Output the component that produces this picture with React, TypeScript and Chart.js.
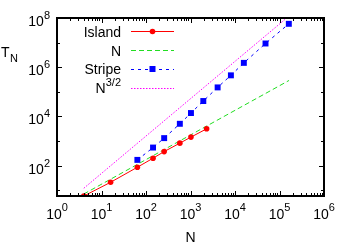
import React, { useEffect, useRef } from "react";
import { Chart, registerables } from "chart.js";

Chart.register(...registerables);

// ---- data ----
const islandN = [4, 16, 64, 144, 256, 576, 1024, 2304];
const islandT = [5.8, 21, 86, 200, 372, 819, 1440, 3130];
const stripeN = [64, 144, 256, 576, 1024, 1940, 4070, 8090, 15800, 48500, 162000];
const stripeT = [171, 542, 1310, 5010, 13700, 42200, 151000, 467000, 1.5e6, 9.2e6, 5.8e7];
const nLineN = [4, 164000];
const nLineT = [7, 2.9e5];
const n32LineN = [4, 145000];
const n32LineT = [12, 1e8];
const xTickExp = [0, 1, 2, 3, 4, 5, 6];
const yTickExp = [2, 4, 6, 8];
const legendLabels = [
  { base: "Island", sup: "" },
  { base: "N", sup: "" },
  { base: "Stripe", sup: "" },
  { base: "N", sup: "3/2" },
];

const FONT = "'Liberation Sans', Arial, Helvetica, sans-serif";
const RED = "#ff0000";
const GREEN = "#22dd22";
const BLUE = "#0000ff";
const MAGENTA = "#ff00ff";

const zip = (xs: number[], ys: number[]) => xs.map((x, i) => ({ x, y: ys[i] }));

const decorPlugin = {
  id: "decor",
  afterDraw(chart: any) {
    const { ctx, chartArea, scales } = chart;
    const { left, right, top, bottom } = chartArea;
    const xs = scales.x;
    const ys = scales.y;
    ctx.save();
    ctx.strokeStyle = "#000";
    ctx.fillStyle = "#000";
    ctx.lineWidth = 1;
    // x ticks
    for (const k of xTickExp) {
      const px = Math.round(xs.getPixelForValue(10 ** k)) + 0.5;
      ctx.beginPath();
      ctx.moveTo(px, bottom); ctx.lineTo(px, bottom - 5);
      ctx.moveTo(px, top); ctx.lineTo(px, top + 5);
      ctx.stroke();
      if (k < 6) {
        for (let m = 2; m <= 9; m++) {
          const mx = Math.round(xs.getPixelForValue(m * 10 ** k)) + 0.5;
          ctx.beginPath();
          ctx.moveTo(mx, bottom); ctx.lineTo(mx, bottom - 3);
          ctx.moveTo(mx, top); ctx.lineTo(mx, top + 3);
          ctx.stroke();
        }
      }
    }
    // y ticks
    for (let k = 1; k <= 8; k++) {
      const v = 10 ** k;
      if (v < ys.min || v > ys.max) continue;
      const py = Math.round(ys.getPixelForValue(v)) + 0.5;
      const len = k % 2 === 0 ? 5 : 3;
      ctx.beginPath();
      ctx.moveTo(left, py); ctx.lineTo(left + len, py);
      ctx.moveTo(right, py); ctx.lineTo(right - len, py);
      ctx.stroke();
    }
    // border
    ctx.lineWidth = 2;
    ctx.strokeRect(left, top, right - left, bottom - top);

    const baseFont = `14px ${FONT}`;
    const supFont = `11px ${FONT}`;
    const widthOf = (t: string, f: string) => { ctx.font = f; return ctx.measureText(t).width; };
    const drawSup = (base: string, sup: string, x: number, y: number, raise: number) => {
      ctx.textAlign = "left";
      ctx.textBaseline = "alphabetic";
      ctx.font = baseFont;
      ctx.fillText(base, x, y);
      if (sup) {
        const wb = widthOf(base, baseFont);
        ctx.font = supFont;
        ctx.fillText(sup, x + wb, y - raise);
      }
    };
    const totalW = (base: string, sup: string) =>
      widthOf(base, baseFont) + (sup ? widthOf(sup, supFont) : 0);

    // x tick labels
    for (const k of xTickExp) {
      const px = xs.getPixelForValue(10 ** k);
      const w = totalW("10", String(k));
      drawSup("10", String(k), px - w / 2, bottom + 23, 8);
    }
    // y tick labels
    for (const k of yTickExp) {
      const py = ys.getPixelForValue(10 ** k);
      const w = totalW("10", String(k));
      drawSup("10", String(k), left - 7 - w, py + 8, 7);
    }
    // axis titles
    {
      const w = widthOf("N", baseFont);
      drawSup("N", "", (left + right) / 2 - w / 2, 241.5, 0);
      ctx.font = baseFont;
      ctx.fillText("T", 1, 57);
      const wt = widthOf("T", baseFont);
      ctx.font = supFont;
      ctx.fillText("N", 1 + wt + 0.5, 62);
    }
    // legend
    const rows = [31, 50, 68.5, 87.5];
    const textRight = 121;
    const sx0 = 131, sx1 = 174, smid = 152.5;
    const styles = [
      { color: RED, dash: [] as number[], marker: "circle" },
      { color: GREEN, dash: [5, 3], marker: "" },
      { color: BLUE, dash: [3, 4], marker: "rect" },
      { color: MAGENTA, dash: [1.5, 1.5], marker: "" },
    ];
    legendLabels.forEach((lab, i) => {
      const cy = rows[i];
      const w = totalW(lab.base, lab.sup);
      ctx.fillStyle = "#000";
      drawSup(lab.base, lab.sup, textRight - w, cy + 5.5, 7);
      const st = styles[i];
      ctx.strokeStyle = st.color;
      ctx.lineWidth = 1;
      ctx.setLineDash(st.dash);
      ctx.beginPath();
      ctx.moveTo(sx0, Math.round(cy) + 0.5);
      ctx.lineTo(sx1, Math.round(cy) + 0.5);
      ctx.stroke();
      ctx.setLineDash([]);
      ctx.fillStyle = st.color;
      if (st.marker === "circle") {
        ctx.beginPath();
        ctx.arc(smid, cy + 0.5, 2.8, 0, Math.PI * 2);
        ctx.fill();
      } else if (st.marker === "rect") {
        ctx.fillRect(smid - 3, cy + 0.5 - 3, 6, 6);
      }
    });
    ctx.restore();
  },
};

export default function App() {
  const ref = useRef<HTMLCanvasElement>(null);
  useEffect(() => {
    document.body.style.margin = "0";
    const canvas = ref.current!;
    const chart = new Chart(canvas, {
      type: "line",
      data: {
        datasets: [
          {
            label: "Island",
            data: zip(islandN, islandT),
            borderColor: RED,
            backgroundColor: RED,
            borderWidth: 1,
            pointRadius: 2.8,
            pointBorderWidth: 0,
            pointStyle: "circle",
          },
          {
            label: "N",
            data: zip(nLineN, nLineT),
            borderColor: GREEN,
            borderWidth: 1,
            borderDash: [5, 3],
            pointRadius: 0,
          },
          {
            label: "Stripe",
            data: zip(stripeN, stripeT),
            borderColor: BLUE,
            backgroundColor: BLUE,
            borderWidth: 1,
            borderDash: [3, 4],
            pointRadius: 4.2,
            pointBorderWidth: 0,
            pointStyle: "rect",
          },
          {
            label: "N^3/2",
            data: zip(n32LineN, n32LineT),
            borderColor: MAGENTA,
            borderWidth: 1,
            borderDash: [1.5, 1.5],
            pointRadius: 0,
          },
        ],
      },
      options: {
        responsive: false,
        animation: false,
        devicePixelRatio: 1,
        layout: { padding: { left: 57, right: 29, top: 18, bottom: 51 } },
        plugins: { legend: { display: false }, tooltip: { enabled: false } },
        scales: {
          x: { type: "logarithmic", min: 1, max: 1e6, display: false },
          y: { type: "logarithmic", min: 5.82, max: 1e8, display: false },
        },
      },
      plugins: [decorPlugin],
    });
    return () => chart.destroy();
  }, []);
  return (
    <div style={{ position: "fixed", left: 0, top: 0, width: 353, height: 247, background: "#fff" }}>
      <canvas ref={ref} width={353} height={247} />
    </div>
  );
}
